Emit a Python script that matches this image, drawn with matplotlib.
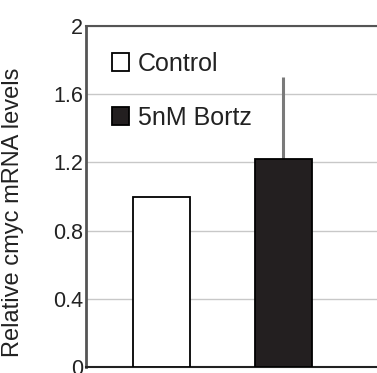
import matplotlib.pyplot as plt
import numpy as np

# relative cmyc mRNA levels
groups = ['Control', '5nM Bortz']
levels = [1.0, 1.22]
err_up = [0.0, 0.48]
bar_colors = ['white', '#231f20']
yticks = [0, 0.4, 0.8, 1.2, 1.6, 2]
ytick_labels = ['0', '0.4', '0.8', '1.2', '1.6', '2']

plt.rcParams['font.family'] = ['Liberation Sans', 'DejaVu Sans']

fig = plt.figure(figsize=(3.77, 3.73), dpi=100)
ax = fig.add_axes([0.228, 0.016, 0.772, 0.914])

x = np.arange(len(groups))
bars = ax.bar(x, levels, width=0.47, color=bar_colors, edgecolor='black',
              linewidth=1.3, zorder=3, label=groups)
ax.errorbar(x, levels, yerr=[np.zeros(len(err_up)), err_up], fmt='none',
            ecolor='#7a7a7a', elinewidth=2.2, capsize=0, zorder=2)

ax.set_xlim(-0.62, 1.77)
ax.set_ylim(0, 2)
ax.set_yticks(yticks)
ax.set_yticklabels(ytick_labels)
ax.set_xticks([])
ax.tick_params(axis='y', length=0, pad=2, labelsize=15.5, labelcolor='#222222')
ax.yaxis.grid(True, color='#c8c8c8', linewidth=1.0, zorder=0)
ax.set_axisbelow(True)

ax.spines['right'].set_visible(False)
ax.spines['left'].set_color('#555555')
ax.spines['left'].set_linewidth(2.0)
ax.spines['top'].set_color('#555555')
ax.spines['top'].set_linewidth(1.5)
ax.spines['bottom'].set_color('#222222')
ax.spines['bottom'].set_linewidth(1.5)

ax.set_ylabel('Relative cmyc mRNA levels', fontsize=17, color='#222222')
ax.yaxis.set_label_coords(-0.212, 0.455)

ax.legend(handles=list(bars), labels=groups, loc='upper left',
          bbox_to_anchor=(0.089, 0.925), frameon=False, fontsize=18,
          handlelength=0.68, handleheight=0.68, handletextpad=0.36,
          labelspacing=1.2, borderpad=0, borderaxespad=0,
          labelcolor='#222222')

fig.savefig('out.png', dpi=100)
